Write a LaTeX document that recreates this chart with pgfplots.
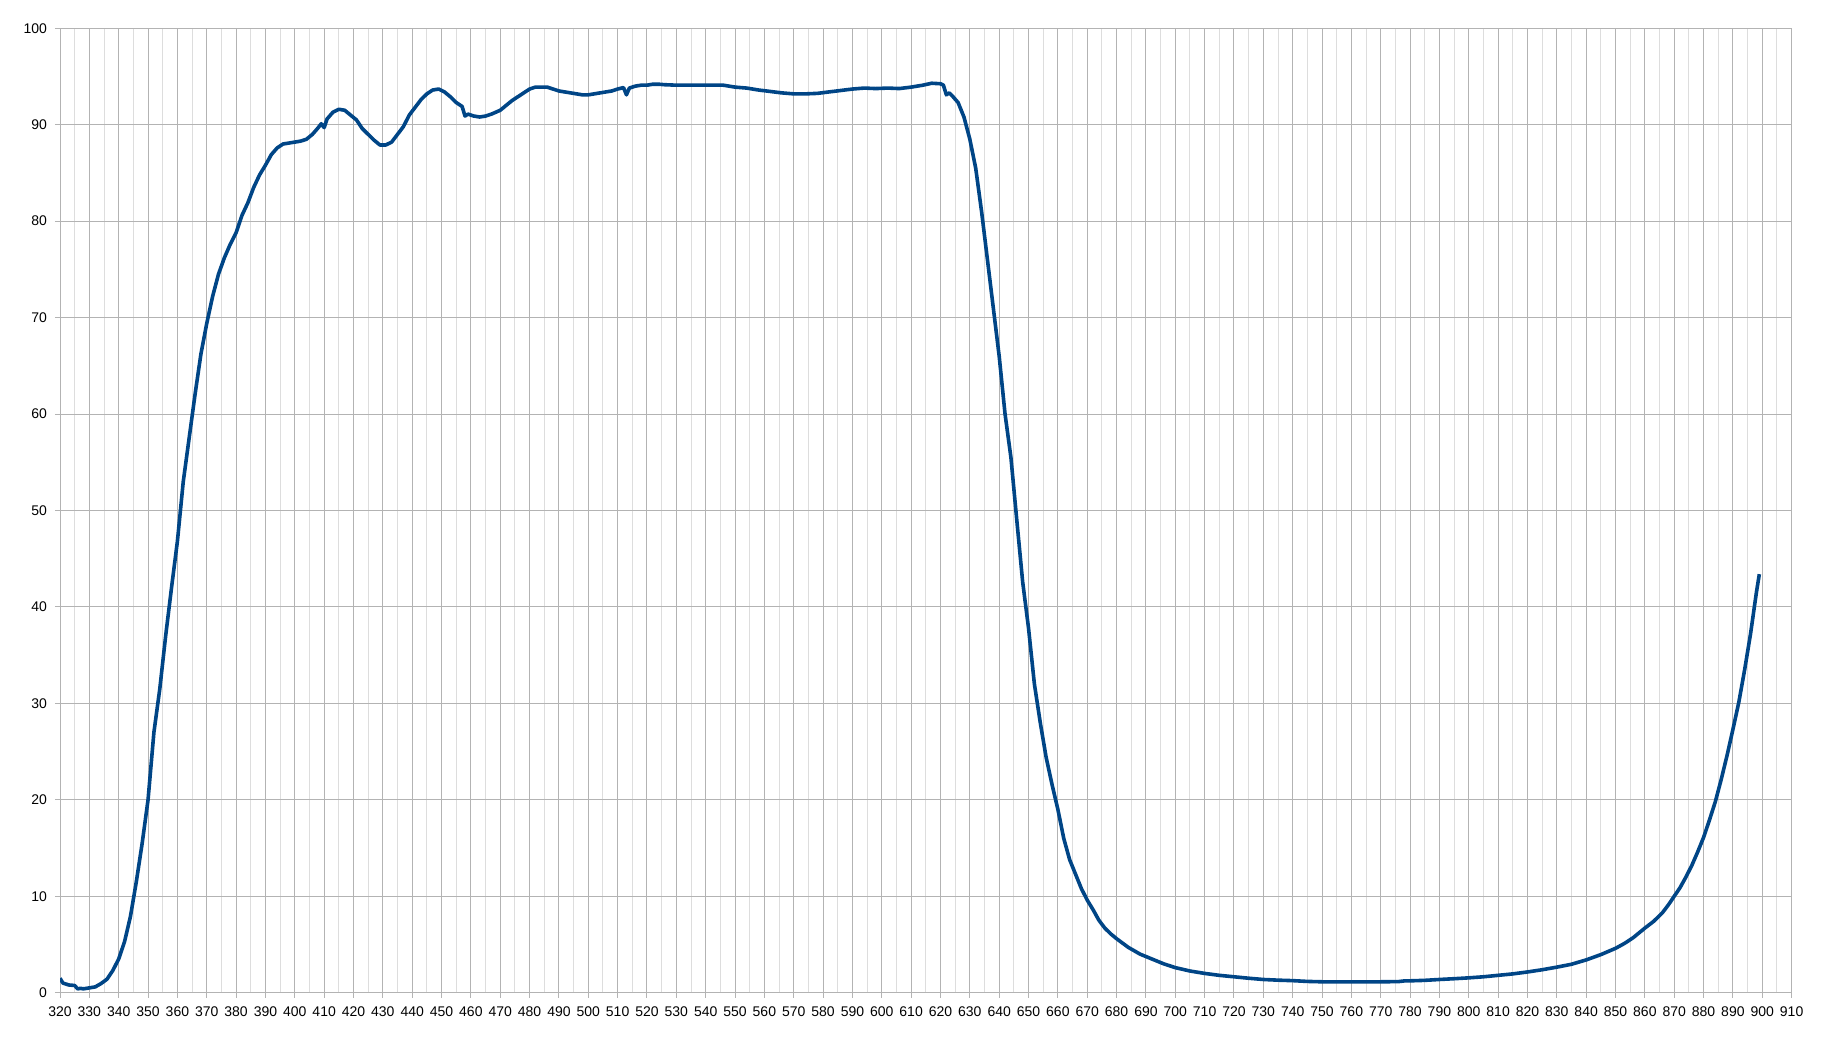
\documentclass[border=0pt]{standalone}
\usepackage{fontspec}
\setmainfont{Liberation Sans}
\usepackage{pgfplots}
\pgfplotsset{compat=1.18}
\definecolor{series}{HTML}{004586}
\definecolor{gridc}{HTML}{B3B3B3}
\definecolor{minorc}{HTML}{DDDDDD}
\begin{document}
\begin{tikzpicture}
\path[use as bounding box] (-30pt,-22.65pt) rectangle (892.5pt,496.35pt);
\begin{axis}[
  at={(0,0)}, anchor=south west,
  scale only axis, width=865.8pt, height=482.2pt,
  xmin=320, xmax=910, ymin=0, ymax=100,
  xtick={320,330,...,910}, ytick={0,10,...,100},
  minor x tick num=1,
  grid=both,
  major grid style={draw=gridc, line width=0.5pt},
  minor grid style={draw=minorc, line width=0.5pt},
  axis line style={draw=gridc, line width=0.5pt},
  tick align=outside, xtick pos=bottom, ytick pos=left,
  major tick length=2.5pt, minor tick length=0pt,
  tick style={draw=gridc, line width=0.5pt},
  /pgf/number format/assume math mode=true,
  /pgf/number format/1000 sep={},
  every tick label/.append style={font=\fontsize{7}{8}\selectfont, text=black},
  xticklabel style={yshift=-1pt},
  yticklabel style={xshift=-0.5pt},
]
\addplot[color=series, line width=1.8pt, line join=round] coordinates {
(320,1.5)(321,1.0)(323,0.8)(325,0.75)(326,0.4)(327,0.45)(328,0.4)(330,0.5)
(332,0.6)(334,0.95)(336,1.4)(338,2.3)(340,3.5)(342,5.3)(344,7.9)(346,11.5)
(348,15.5)(350,20)(352,27)(354,31.5)(356,37)(358,42)(360,46.8)(362,53)
(364,57.5)(366,62)(368,66.2)(370,69.4)(372,72.2)(374,74.5)(376,76.2)(378,77.6)
(380,78.8)(382,80.6)(384,81.9)(386,83.5)(388,84.8)(390,85.8)(392,86.9)(394,87.6)
(396,88.0)(398,88.1)(400,88.2)(402,88.3)(404,88.5)(406,89.0)(408,89.7)(409,90.1)
(410,89.7)(411,90.6)(413,91.3)(415,91.6)(417,91.5)(419,91.0)(421,90.5)(423,89.6)
(425,89.0)(427,88.4)(429,87.9)(431,87.9)(433,88.2)(435,89.0)(437,89.8)(439,91.0)
(441,91.8)(443,92.6)(445,93.2)(447,93.6)(449,93.7)(451,93.4)(453,92.9)(455,92.3)
(457,91.9)(458,90.9)(459,91.1)(461,90.9)(463,90.8)(465,90.9)(467,91.1)(470,91.5)
(472,92.0)(474,92.5)(476,92.9)(478,93.3)(480,93.7)(482,93.9)(484,93.9)(486,93.9)
(488,93.7)(490,93.5)(492,93.4)(494,93.3)(496,93.2)(498,93.1)(500,93.1)(502,93.2)
(504,93.3)(506,93.4)(508,93.5)(510,93.7)(512,93.85)(513,93.1)(514,93.8)(516,94.0)
(518,94.1)(520,94.1)(522,94.2)(524,94.2)(526,94.15)(530,94.1)(540,94.1)(546,94.1)
(550,93.9)(554,93.8)(558,93.6)(562,93.45)(566,93.3)(570,93.2)(574,93.2)(578,93.25)
(582,93.4)(586,93.55)(590,93.7)(594,93.8)(598,93.75)(602,93.8)(606,93.75)(610,93.9)
(614,94.1)(617,94.3)(620,94.25)(621,94.1)(622,93.1)(623,93.3)(624,93.0)(626,92.3)
(628,90.8)(630,88.5)(632,85.5)(634,81.0)(636,76.0)(638,71.0)(640,66.0)(642,60.0)
(644,55.5)(646,49.0)(648,42.6)(650,37.8)(652,32.0)(654,28.0)(656,24.4)(658,21.6)
(660,19.0)(662,16.0)(664,13.8)(666,12.3)(668,10.8)(670,9.6)(672,8.6)(674,7.5)
(676,6.7)(678,6.1)(680,5.6)(684,4.7)(688,4.0)(692,3.5)(696,3.0)(700,2.6)
(705,2.25)(710,2.0)(715,1.8)(720,1.65)(725,1.5)(730,1.37)(735,1.3)(740,1.25)
(745,1.17)(750,1.13)(760,1.13)(770,1.13)(776,1.15)(778,1.22)(780,1.23)(785,1.28)
(790,1.37)(795,1.45)(800,1.54)(805,1.65)(810,1.8)(815,1.95)(820,2.15)(825,2.38)
(830,2.65)(835,2.95)(840,3.4)(845,3.95)(850,4.6)(853,5.1)(856,5.7)(858,6.2)
(860,6.7)(863,7.4)(866,8.3)(868,9.1)(870,10.0)(872,10.9)(874,12.0)(876,13.2)
(878,14.6)(880,16.1)(882,17.9)(884,19.8)(886,22.1)(888,24.6)(890,27.3)(892,30.1)
(894,33.5)(896,37.2)(898,41.5)(899,43.4)
};
\end{axis}
\end{tikzpicture}
\end{document}
